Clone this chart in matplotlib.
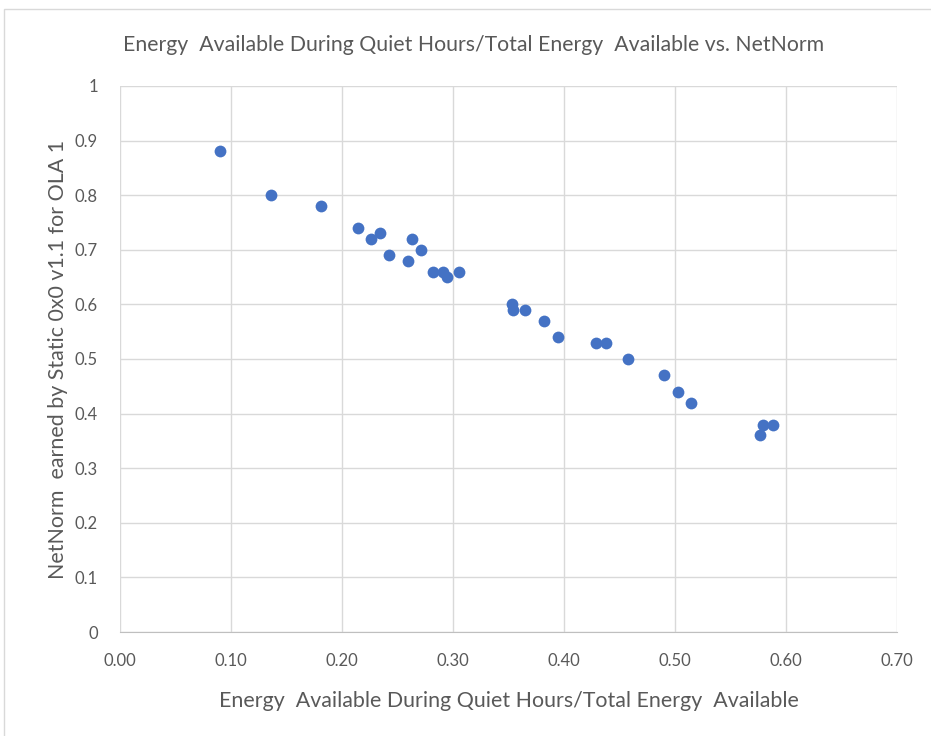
import matplotlib.pyplot as plt
from matplotlib.patches import Rectangle

# Share of energy available in quiet hours vs. NetNorm score
quiet_share = [0.090, 0.136, 0.181, 0.214, 0.226, 0.234, 0.242, 0.263, 0.259, 0.271,
               0.282, 0.291, 0.295, 0.305, 0.353, 0.354, 0.365, 0.382, 0.395, 0.429,
               0.438, 0.458, 0.490, 0.503, 0.514, 0.579, 0.588, 0.577]
netnorm = [0.88, 0.80, 0.78, 0.74, 0.72, 0.73, 0.69, 0.72, 0.68, 0.70,
           0.66, 0.66, 0.65, 0.66, 0.60, 0.59, 0.59, 0.57, 0.54, 0.53,
           0.53, 0.50, 0.47, 0.44, 0.42, 0.38, 0.38, 0.36]

x_ticks = [0.0, 0.1, 0.2, 0.3, 0.4, 0.5, 0.6, 0.7]
y_ticks = [0, 0.1, 0.2, 0.3, 0.4, 0.5, 0.6, 0.7, 0.8, 0.9, 1]

plt.rcParams['font.family'] = ['Lato', 'DejaVu Sans']
text_col = '#595959'

fig = plt.figure(figsize=(9.31, 7.36), dpi=100)
ax = fig.add_axes([0.1289, 0.1413, 0.8346, 0.7419])

# chart frame
fig.patches.append(Rectangle((4 / 931, -0.1), 1.2, 1 - 9 / 736 + 0.1, transform=fig.transFigure,
                             fill=False, edgecolor='#d9d9d9', linewidth=1.0))

ax.scatter(quiet_share, netnorm, s=72, color='#4472C4', zorder=3, linewidths=0)

ax.set_xlim(0, 0.7)
ax.set_ylim(0, 1)
ax.set_xticks(x_ticks)
ax.set_xticklabels([f'{v:.2f}' for v in x_ticks])
ax.set_yticks(y_ticks)
ax.set_yticklabels([f'{v:g}' for v in y_ticks])

ax.grid(True, color='#d9d9d9', linewidth=1.0)
ax.set_axisbelow(True)
for side in ['top', 'right', 'left']:
    ax.spines[side].set_visible(False)
ax.spines['bottom'].set_color('#bfbfbf')
ax.tick_params(length=0, labelsize=12, colors=text_col)
ax.tick_params(axis='x', pad=15)
ax.tick_params(axis='y', pad=16)

fig.text(474 / 931, 1 - 45 / 736, 'Energy  Available During Quiet Hours/Total Energy  Available vs. NetNorm',
         fontsize=15.3, color=text_col, ha='center', va='center')
ax.set_xlabel('Energy  Available During Quiet Hours/Total Energy  Available',
              fontsize=15.4, color=text_col, labelpad=16)
ax.set_ylabel('NetNorm  earned by Static 0x0 v1.1 for OLA 1',
              fontsize=15.4, color=text_col, labelpad=5)

fig.savefig('out.png', dpi=100)
